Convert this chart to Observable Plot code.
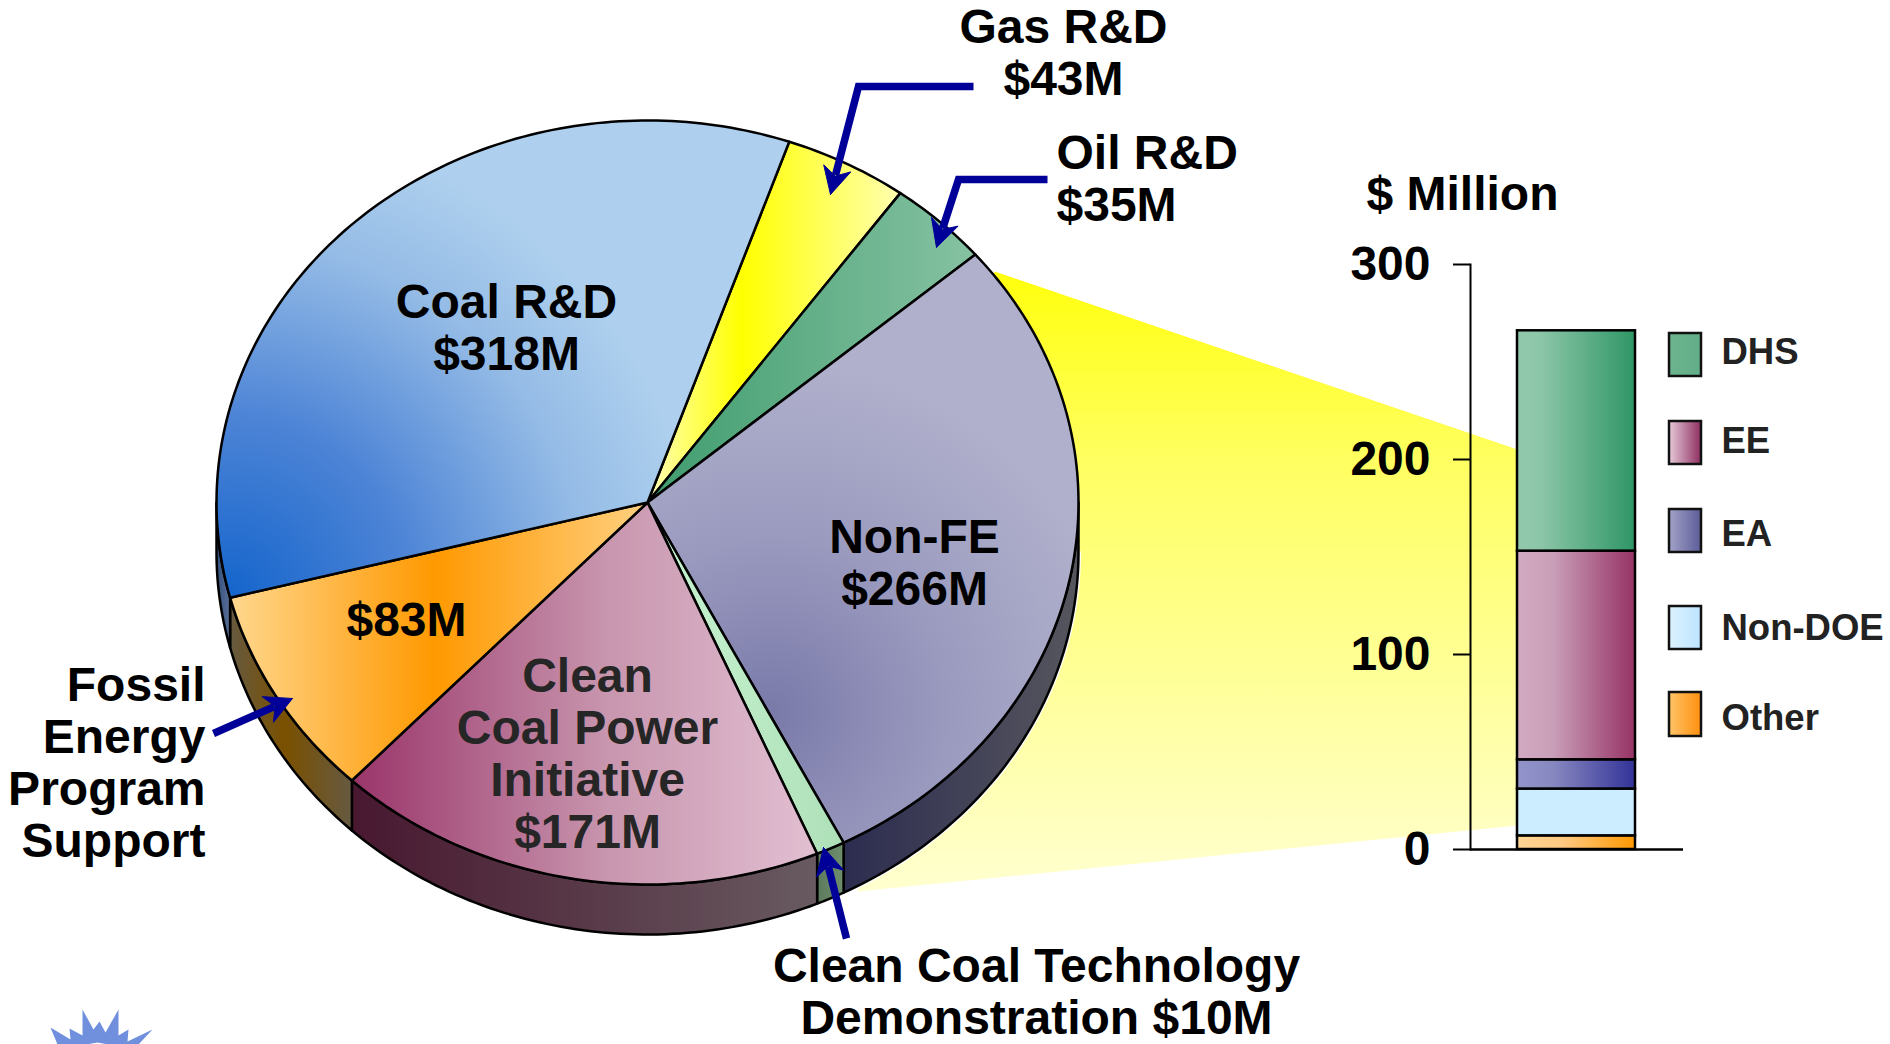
<!DOCTYPE html>
<html>
<head>
<meta charset="utf-8">
<script src="https://cdn.jsdelivr.net/npm/d3@7"></script>
<script src="https://cdn.jsdelivr.net/npm/@observablehq/plot@0.6"></script>
<style>
html,body{margin:0;padding:0;background:#fff;overflow:hidden}
#stage{position:relative;width:1890px;height:1044px}
#stage svg{position:absolute;left:0;top:0;max-width:none}
</style>
</head>
<body>
<div id="stage"></div>
<script>
// ---- data: pie, clockwise starting at Coal R&D ($ million)
const sliceNames  = ["Gas R&D","Oil R&D","Non-FE","Clean Coal Technology Demonstration","Clean Coal Power Initiative","Fossil Energy Program Support","Coal R&D"];
const sliceValues = [43,35,266,10,171,83,318];
// ---- data: stacked bar, bottom to top ($ million)
const barSeries = ["Other","Non-DOE","EA","EE","DHS"];
const barValues = [7,24,15,107,113];
const axisTicks = [0,100,200,300];
const legendNames = ["DHS","EE","EA","Non-DOE","Other"];

// ---- layout (page pixels)
const W=1890,H=1044;
const pie={cx:647,cy:502,rx:431,ry:382,depth:50,startDeg:19.2};
const font="'Liberation Sans',Arial,sans-serif";
const navy="#000099";

// ---- gradients
const linear={
  gas:[[0,"#ffffb8"],[.37,"#ffff00"],[1,"#ffffb0"]],
  oil:[[0,"#3f9c6e"],[1,"#86c2a2"]],
  cct:[[0,"#c8f4d2"],[1,"#aee0b8"]],
  ccpi:[[0,"#9a356a"],[.55,"#c896ae"],[1,"#e2bfd2"]],
  fe:[[0,"#ffd78e"],[.49,"#ff9900"],[1,"#ffd080"]],
  sideCoal:[[0,"#33507f"],[1,"#5a6f96"]],
  sideNon:[[0,"#2c2c50"],[1,"#56565e"]],
  sideCct:[[0,"#5c7a5c"],[1,"#6e8e6e"]],
  sideCcpi:[[0,"#481830"],[1,"#685a60"]],
  sideFe:[[0,"#665a40"],[.45,"#7a5000"],[1,"#665a42"]],
  barDHS:[[0,"#92c9ad"],[.2,"#8cc6a8"],[1,"#2f9666"]],
  barEE:[[0,"#d2aac2"],[.3,"#c99fb8"],[1,"#963366"]],
  barEA:[[0,"#9494cc"],[.3,"#8888c0"],[1,"#333399"]],
  barND:[[0,"#ccecff"],[1,"#ccecff"]],
  barOther:[[0,"#ffd595"],[.4,"#ffc880"],[1,"#ff9900"]],
  lgDHS:[[0,"#6cb48e"],[1,"#62ae88"]],
  lgEE:[[0,"#e6cad8"],[1,"#8f2f62"]],
  lgEA:[[0,"#a2a2c8"],[1,"#5c5c98"]],
  lgND:[[0,"#dcf2ff"],[1,"#bde4ff"]],
  lgOther:[[0,"#ffc468"],[1,"#ff9010"]]
};
function defs(){
  const d=d3.create("svg:defs");
  for(const [id,stops] of Object.entries(linear)){
    const g=d.append("linearGradient").attr("id",id);
    for(const [o,c] of stops) g.append("stop").attr("offset",o).attr("stop-color",c);
  }
  const radial=(id,cx,cy,r,stops)=>{
    const g=d.append("radialGradient").attr("id",id).attr("gradientUnits","userSpaceOnUse")
      .attr("cx",cx).attr("cy",cy).attr("r",r);
    for(const [o,c] of stops) g.append("stop").attr("offset",o).attr("stop-color",c);
  };
  radial("coal",229,594,470,[[0,"#1565cc"],[.38,"#4d84d6"],[.75,"#94bbe6"],[1,"#aed0ee"]]);
  radial("nonfe",771,711,350,[[0,"#7a7aaa"],[.5,"#9a9abf"],[1,"#b0b0cc"]]);
  const w=d.append("linearGradient").attr("id","wedge").attr("x1",0).attr("y1",0).attr("x2",0).attr("y2",1);
  w.append("stop").attr("offset",0).attr("stop-color","#ffff0c");
  w.append("stop").attr("offset",.3).attr("stop-color","#ffff60");
  w.append("stop").attr("offset",1).attr("stop-color","#ffffd0");
  return d.node();
}

// ---- pie geometry derived from the values
const rad=d=>d*Math.PI/180;
const total=d3.sum(sliceValues);
const rim=(deg,off=0)=>[pie.cx+pie.rx*Math.sin(rad(deg)),pie.cy-pie.ry*Math.cos(rad(deg))+off];
const sliceFill={"Gas R&D":"url(#gas)","Oil R&D":"url(#oil)","Non-FE":"url(#nonfe)","Clean Coal Technology Demonstration":"url(#cct)","Clean Coal Power Initiative":"url(#ccpi)","Fossil Energy Program Support":"url(#fe)","Coal R&D":"url(#coal)"};
const sideFill={"Non-FE":"url(#sideNon)","Clean Coal Technology Demonstration":"url(#sideCct)","Clean Coal Power Initiative":"url(#sideCcpi)","Fossil Energy Program Support":"url(#sideFe)","Coal R&D":"url(#sideCoal)"};
let acc=pie.startDeg;
const slices=sliceNames.map((name,i)=>{
  const a0=acc,a1=acc+sliceValues[i]/total*360;acc=a1;
  return {name,a0,a1};
});
function arcPts(a0,a1,off=0){
  const n=Math.max(2,Math.ceil((a1-a0)));
  return d3.range(n+1).map(k=>rim(a0+(a1-a0)*k/n,off));
}
const facePolys=slices.map(s=>({name:s.name,pts:[[pie.cx,pie.cy],...arcPts(s.a0,s.a1),[pie.cx,pie.cy]]}));
const sidePolys=slices.flatMap(s=>{
  const a0=Math.max(s.a0,90),a1=Math.min(s.a1,270);
  if(a1<=a0) return [];
  const top=arcPts(a0,a1),bot=arcPts(a0,a1,pie.depth).reverse();
  return [{name:s.name,pts:[...top,...bot,top[0]],outer:arcPts(a0,a1,pie.depth)}];
});

// ---- callout wedge joining the Non-FE slice to the bar
const wedge=[[994,271],[1517,449],[1517,825],[857,891]];

// ---- arrows
const arrows=[
  [[973,86],[858,86],[830,194]],
  [[1047,179],[958,179],[936,247]],
  [[213,733],[292,698]],
  [[846,938],[823,847]]
];
function head(a){
  const tip=a[a.length-1],prev=a[a.length-2];
  const dx=tip[0]-prev[0],dy=tip[1]-prev[1],l=Math.hypot(dx,dy),ux=dx/l,uy=dy/l,px=-uy,py=ux;
  const L=27,N=19,B=14;
  return [tip,[tip[0]-ux*L+px*B,tip[1]-uy*L+py*B],[tip[0]-ux*N,tip[1]-uy*N],[tip[0]-ux*L-px*B,tip[1]-uy*L-py*B],tip];
}
function shaft(a){
  const tip=a[a.length-1],prev=a[a.length-2];
  const dx=tip[0]-prev[0],dy=tip[1]-prev[1],l=Math.hypot(dx,dy);
  return [...a.slice(0,-1),[tip[0]-dx/l*20,tip[1]-dy/l*20]];
}

// ---- logo fragment at the page corner
const logo=[[50,1027],[70,1039],[69,1028],[82,1035],[82,1009],[93,1029],[99,1021],[105,1032],[118,1009],[118,1035],[128,1029],[127,1041],[152,1029],[138,1044],[108,1044],[97,1042],[86,1044],[57,1044],[50,1027]];

// ---- text annotations
const labels=[
  {t:"Gas R&D\n$43M",x:1063,y:52,a:"middle",c:"#000"},
  {t:"Oil R&D\n$35M",x:1056,y:178,a:"start",c:"#000"},
  {t:"$ Million",x:1462,y:193,a:"middle",c:"#000"},
  {t:"Coal R&D\n$318M",x:506,y:327,a:"middle",c:"#000"},
  {t:"Non-FE\n$266M",x:914,y:562,a:"middle",c:"#000"},
  {t:"$83M",x:406,y:619,a:"middle",c:"#000"},
  {t:"Clean\nCoal Power\nInitiative\n$171M",x:587,y:753,a:"middle",c:"#262626"},
  {t:"Fossil\nEnergy\nProgram\nSupport",x:205,y:762,a:"end",c:"#000"},
  {t:"Clean Coal Technology\nDemonstration $10M",x:1036,y:991,a:"middle",c:"#000"}
];
const legendY=[[333,376],[421,464],[509,552],[606,649],[692,736]];
const legendText=[352,441,534,628,718];
const legendFill=["url(#lgDHS)","url(#lgEE)","url(#lgEA)","url(#lgND)","url(#lgOther)"];

const poly=(pts,o)=>Plot.line(pts,{x:d=>d[0],y:d=>d[1],...o});

const piePlot=Plot.plot({
  width:W,height:H,margin:0,
  style:{background:"transparent",fontFamily:font},
  x:{domain:[0,W],range:[0,W],axis:null},
  y:{domain:[0,H],range:[0,H],axis:null},
  marks:[
    defs,
    poly([...wedge,wedge[0]],{fill:"url(#wedge)",stroke:"none"}),
    ...sidePolys.map(s=>poly(s.outer,{stroke:"#fff",strokeWidth:5})),
    ...sidePolys.map(s=>poly(s.pts,{fill:sideFill[s.name],stroke:"#000",strokeWidth:2.5})),
    ...facePolys.map(f=>poly(f.pts,{fill:sliceFill[f.name],stroke:"#000",strokeWidth:2.5})),
    ...arrows.map(a=>poly(shaft(a),{stroke:navy,strokeWidth:7.5,strokeLinecap:"butt",strokeLinejoin:"miter",strokeMiterlimit:4})),
    ...arrows.map(a=>poly(head(a),{fill:navy,stroke:navy,strokeWidth:1})),
    poly(logo,{fill:"#7090dd",stroke:"none"}),
    Plot.text(labels,{x:"x",y:"y",text:"t",textAnchor:"start",filter:d=>d.a==="start",fontSize:48,fontWeight:"bold",lineHeight:1.08,fill:"c"}),
    Plot.text(labels,{x:"x",y:"y",text:"t",textAnchor:"middle",filter:d=>d.a==="middle",fontSize:48,fontWeight:"bold",lineHeight:1.08,fill:"c"}),
    Plot.text(labels,{x:"x",y:"y",text:"t",textAnchor:"end",filter:d=>d.a==="end",fontSize:48,fontWeight:"bold",lineHeight:1.08,fill:"c"}),
    ...legendNames.map((n,i)=>Plot.rect([n],{x1:()=>1669,x2:()=>1701,y1:()=>legendY[i][0],y2:()=>legendY[i][1],fill:legendFill[i],stroke:"#111",strokeWidth:2.5})),
    Plot.text(legendNames,{x:()=>1721,y:(d,i)=>legendText[i],text:d=>d,textAnchor:"start",fontSize:36.5,fontWeight:"bold",fill:"#222"})
  ]
});

const barRows=barSeries.map((s,i)=>({series:s,value:barValues[i],group:"Non-FE"}));
const barFill={Other:"url(#barOther)","Non-DOE":"url(#barND)",EA:"url(#barEA)",EE:"url(#barEE)",DHS:"url(#barDHS)"};
const barPlot=Plot.plot({
  width:W,height:H,
  marginLeft:1470,marginRight:207,marginTop:264,marginBottom:195,
  style:{background:"transparent",fontFamily:font,color:"#000"},
  x:{type:"band",domain:["Non-FE"],range:[1517,1635],padding:0,axis:null},
  y:{domain:[0,300],axis:null},
  marks:[
    defs,
    Plot.barY(barRows,Plot.stackY({
      x:"group",y:"value",order:barSeries,
      fill:{value:d=>barFill[d.series],scale:null},
      stroke:"#000",strokeWidth:2.5
    })),
    Plot.frame({anchor:"left",stroke:"#000",strokeWidth:2}),
    Plot.ruleY([0],{stroke:"#000",strokeWidth:2.5}),
    Plot.axisY({ticks:axisTicks,tickSize:17,tickPadding:23,fontSize:48,fontWeight:"bold",label:null,stroke:"#000",strokeWidth:2,tickFormat:d=>d,fill:"#000"})
  ]
});

const stage=document.getElementById("stage");
stage.append(piePlot,barPlot);
</script>
</body>
</html>
